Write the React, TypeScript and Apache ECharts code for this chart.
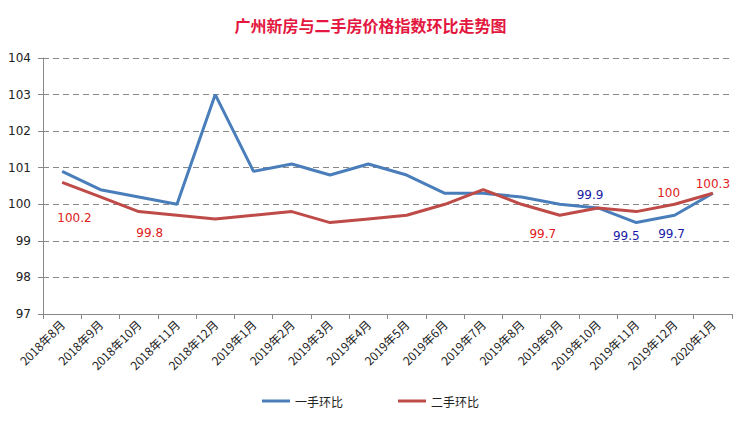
import React, { useEffect, useRef } from "react";
import * as echarts from "echarts";

const categories = ["2018年8月","2018年9月","2018年10月","2018年11月","2018年12月","2019年1月","2019年2月","2019年3月","2019年4月","2019年5月","2019年6月","2019年7月","2019年8月","2019年9月","2019年10月","2019年11月","2019年12月","2020年1月"];
const firstHand = [100.9,100.4,100.2,100.0,103.0,100.9,101.1,100.8,101.1,100.8,100.3,100.3,100.2,100.0,99.9,99.5,99.7,100.3];
const secondHand = [100.6,100.2,99.8,99.7,99.6,99.7,99.8,99.5,99.6,99.7,100.0,100.4,100.0,99.7,99.9,99.8,100.0,100.3];

// labelled points: index -> [position, dx, dy]
const firstLabels: Record<number, [string, number, number]> = {
  14: ["top", -8, -2],
  15: ["bottom", -10, 2],
  16: ["bottom", -3, 8],
};
const secondLabels: Record<number, [string, number, number]> = {
  1: ["bottom", -26, 10],
  2: ["bottom", 11, 10],
  13: ["bottom", -17, 8],
  16: ["top", -6, 0],
  17: ["top", 0, 2],
};

export default function App() {
  const ref = useRef<HTMLDivElement>(null);
  useEffect(() => {
    const chart = echarts.init(ref.current!, null, { renderer: "svg" });
    const mk = (vals: number[], labels: Record<number, [string, number, number]>, color: string) =>
      vals.map((v, i) => {
        const l = labels[i];
        if (!l) return v;
        return {
          value: v,
          label: { show: true, position: l[0], offset: [l[1], l[2]], color, fontSize: 12, fontFamily: "Verdana, DejaVu Sans, sans-serif" },
        };
      });
    chart.setOption({
      animation: false,
      title: {
        text: "广州新房与二手房价格指数环比走势图",
        left: "center",
        top: 12,
        textStyle: { color: "#e3173f", fontSize: 16, fontWeight: "bold", fontFamily: "Noto Sans CJK SC" },
      },
      legend: {
        bottom: 12,
        left: "center",
        itemGap: 55,
        itemWidth: 28,
        itemHeight: 3,
        icon: "rect",
        textStyle: { fontSize: 12, color: "#222", fontFamily: "Noto Sans CJK SC" },
        data: ["一手环比", "二手环比"],
      },
      grid: { left: 43, right: 9, top: 58, bottom: 110 },
      xAxis: {
        type: "category",
        data: categories,
        boundaryGap: true,
        axisLine: { lineStyle: { color: "#888" } },
        axisTick: { show: true, length: 5, lineStyle: { color: "#888" } },
        axisLabel: { rotate: 45, fontSize: 12, color: "#222", interval: 0, margin: 8, fontFamily: "Noto Sans CJK SC" },
      },
      yAxis: {
        type: "value",
        min: 97,
        max: 104,
        interval: 1,
        axisLine: { show: true, lineStyle: { color: "#888" } },
        axisTick: { show: true, length: 5, lineStyle: { color: "#888" } },
        axisLabel: { fontSize: 12, color: "#222", margin: 12, fontFamily: "Verdana, DejaVu Sans, sans-serif" },
        splitLine: { show: true, lineStyle: { color: "#888", type: [6, 4], width: 1 } },
      },
      series: [
        {
          name: "一手环比",
          type: "line",
          data: mk(firstHand, firstLabels, "#1a1aa6"),
          symbol: "circle",
          symbolSize: 0,
          showSymbol: true,
          lineStyle: { color: "#4a7ebb", width: 3 },
          itemStyle: { color: "#4a7ebb" },
        },
        {
          name: "二手环比",
          type: "line",
          data: mk(secondHand, secondLabels, "#e02020"),
          symbol: "circle",
          symbolSize: 0,
          showSymbol: true,
          lineStyle: { color: "#be4b48", width: 3 },
          itemStyle: { color: "#be4b48" },
        },
      ],
    });
    return () => chart.dispose();
  }, []);
  return <div ref={ref} style={{ position: "absolute", left: 0, top: 0, width: 741, height: 424 }} />;
}
